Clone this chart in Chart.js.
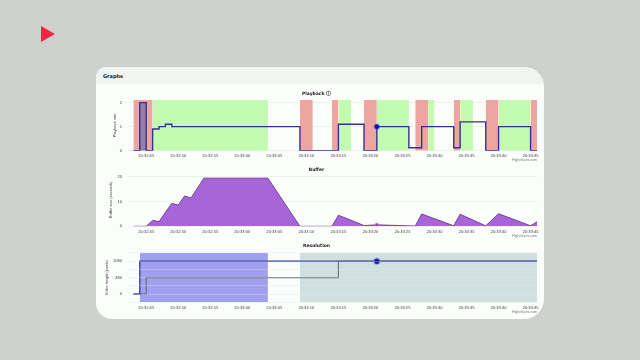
<!DOCTYPE html>
<html><head><meta charset="utf-8">
<script src="https://cdn.jsdelivr.net/npm/chart.js@4"></script>
<style>
html,body{margin:0;padding:0;width:640px;height:360px;overflow:hidden;background:#cfd1ce;font-family:"DejaVu Sans",sans-serif}
#wrap{position:absolute;left:0;top:0;width:640px;height:360px;filter:blur(.35px)}
#play{position:absolute;left:41px;top:26px;width:0;height:0;border-left:14px solid #ee2840;border-top:8px solid transparent;border-bottom:8px solid transparent}
#card{position:absolute;left:96px;top:67px;width:448px;height:252px;background:#fbfdfb;border-radius:10px 20px 20px 16px;overflow:hidden}
#head{height:17px;background:#f2f4f2;font:bold 5px "DejaVu Sans",sans-serif;color:#222;line-height:18px;padding-left:7px}
canvas{position:absolute;left:0}
.credit{position:absolute;right:7px;font:3.6px "Liberation Sans",sans-serif;color:#777}
</style></head><body>
<div id="wrap">
<div id="play"></div>
<div id="card">
<div id="head">Graphs</div>
<canvas id="c1" width="448" height="73" style="top:21px;width:448px;height:73px"></canvas>
<canvas id="c2" width="448" height="72" style="top:97px;width:448px;height:72px"></canvas>
<canvas id="c3" width="448" height="72" style="top:173px;width:448px;height:72px"></canvas>
<div class="credit" style="top:91px">Highcharts.com</div>
<div class="credit" style="top:167px">Highcharts.com</div>
<div class="credit" style="top:243px">Highcharts.com</div>
</div></div>
<script>
// time axis: seconds after 20:32:45
const tickSeconds=[0,5,10,15,20,25,30,35,40,45,50,55,60];
const tickLabels=['20:32:45','20:32:50','20:32:55','20:33:00','20:33:05','20:33:10','20:33:15','20:33:20','20:33:25','20:33:30','20:33:35','20:33:40','20:33:45'];
const markerTime=[36];

const redBands=[[-2,1],[24,26],[29,30],[34,36],[42,44],[48,49],[53,55],[60,61]];
const greenBands=[[1,19],[30,32],[36,41],[44,45],[49,51],[55,60]];
const selectionBand=[[-1,0]];
const playbackT=[-2,-1,0,1,2,3,4,24,30,34,36,41,43,48,49,53,55,60,61];
const playbackV=[0,2,0,0.9,1,1.1,1,0,1.1,0,1,0.12,1,0.12,1.2,0,1,0,0];

const bufferT=[-2,0,1,2,4,5,6,7,9,19,24,29,30,34,36,42,43,48,49,53,55,60,61];
const bufferV=[0,0,2.4,1.9,9.3,8.6,12.3,11.5,19.5,19.5,0,0,4.5,0.3,0.6,0.1,5,0.2,4.9,0.2,5.1,0.2,1.8];

const heightLevels=['1320','1080','720','480','240','0','-240'];
const heightShown=['1080','480','0'];
const blueBands=[[-1,19]];
const tealBands=[[24,61]];
const topT=[-2,-1,61];
const topV=['0','1080','1080'];
const lowT=[-2,0,30,61];
const lowV=['0','480','1080','1080'];

const F='"DejaVu Sans",sans-serif';
const T='"Liberation Sans",sans-serif';
function band(ranges,top,color,order){
  return {type:'line',data:ranges.flatMap(r=>[{x:r[0],y:top},{x:r[1],y:top},{x:r[1],y:null}]),
    backgroundColor:color,borderWidth:0,pointRadius:0,fill:'start',order:order,spanGaps:false};
}
function line(t,v,color,w,step,order,fill){
  return {type:'line',data:t.map((x,i)=>({x:x,y:v[i]})),borderColor:color,borderWidth:w,pointRadius:0,
    stepped:step?'before':false,tension:0,fill:fill?'start':false,backgroundColor:fill||'transparent',order:order};
}
function marker(t,y,color,halo,r,b){
  return {type:'line',data:[{x:t,y:y}],pointRadius:r,pointBackgroundColor:color,pointBorderColor:halo,pointBorderWidth:b,showLine:false,order:0};
}
function make(id,datasets,title,titleBottom,yTitle,yTitlePad,yScale,xH){
  new Chart(document.getElementById(id),{
    type:'line',data:{datasets},
    options:{responsive:false,animation:false,events:[],
      layout:{padding:{left:0,right:7,top:3,bottom:0}},
      plugins:{legend:{display:false},tooltip:{enabled:false},
        title:{display:true,text:title,color:'#222',font:{family:F,size:4.5,weight:'bold',lineHeight:1.33},padding:{top:0,bottom:titleBottom}}},
      scales:{
        x:{type:'linear',min:-2.84,max:61,
          afterBuildTicks:s=>{s.ticks=tickSeconds.map(v=>({value:v}));},
          afterFit:s=>{s.height=xH;},
          grid:{display:false,drawTicks:false},border:{display:false},
          ticks:{autoSkip:false,maxRotation:0,padding:3,color:'#444',font:{family:T,size:4.1},
            callback:v=>tickLabels[tickSeconds.indexOf(v)]}},
        y:Object.assign({afterFit:s=>{s.width=32;},border:{display:false},
          title:{display:true,text:yTitle,color:'#444',font:{family:T,size:3.9,lineHeight:1},padding:{top:yTitlePad,bottom:0}}},yScale)
      }}
  });
}
const yGrid={color:'#e8eae8',lineWidth:.7,drawTicks:false};
const yTick={color:'#444',padding:6,font:{family:T,size:4.1}};

make('c1',[
  marker(markerTime[0],1,'#12129c','rgba(40,40,220,.3)',2.4,1.6),
  line(playbackT,playbackV,'#37308c',1.4,true,1),
  band(selectionBand,2,'#8f80ae',2),
  band(redBands,2.11,'#eda5a2',3),
  band(greenBands,2.11,'#c2fbaf',3)
],'Playback \u24d8',3,'Playback rate',16.5,{min:0,max:2.11,afterBuildTicks:s=>{s.ticks=[0,1,2].map(v=>({value:v}));},grid:yGrid,ticks:yTick},10.3);

make('c2',[
  marker(markerTime[0],0.6,'#5a2a90','rgba(210,130,235,.55)',1.5,1.8),
  line(bufferT,bufferV,'#6a3a90',.9,false,1,'#a765d8')
],'Buffer',0,'Buffer size (seconds)',13,{min:0,max:21.6,afterBuildTicks:s=>{s.ticks=[0,10,20].map(v=>({value:v}));},grid:yGrid,ticks:yTick},9.7);

make('c3',[
  marker(markerTime[0],'1080','#12129c','rgba(110,110,225,.35)',2.8,2),
  line(topT,topV,'#33409a',1.4,true,1),
  line(lowT,lowV,'#5f7070',1.1,true,2),
  band(blueBands,'1320','rgba(150,150,240,.9)',3),
  band(tealBands,'1320','#d0e0e0',3)
],'Resolution',4,'Video height (pixels)',8.5,{type:'category',labels:heightLevels,offset:false,grid:Object.assign({},yGrid,{z:1,color:'rgba(225,228,235,.5)'}),
  ticks:Object.assign({},yTick,{autoSkip:false,callback:function(v){const l=this.getLabelForValue(v);return heightShown.includes(l)?l:'';}})},9.7);
</script>
</body></html>
